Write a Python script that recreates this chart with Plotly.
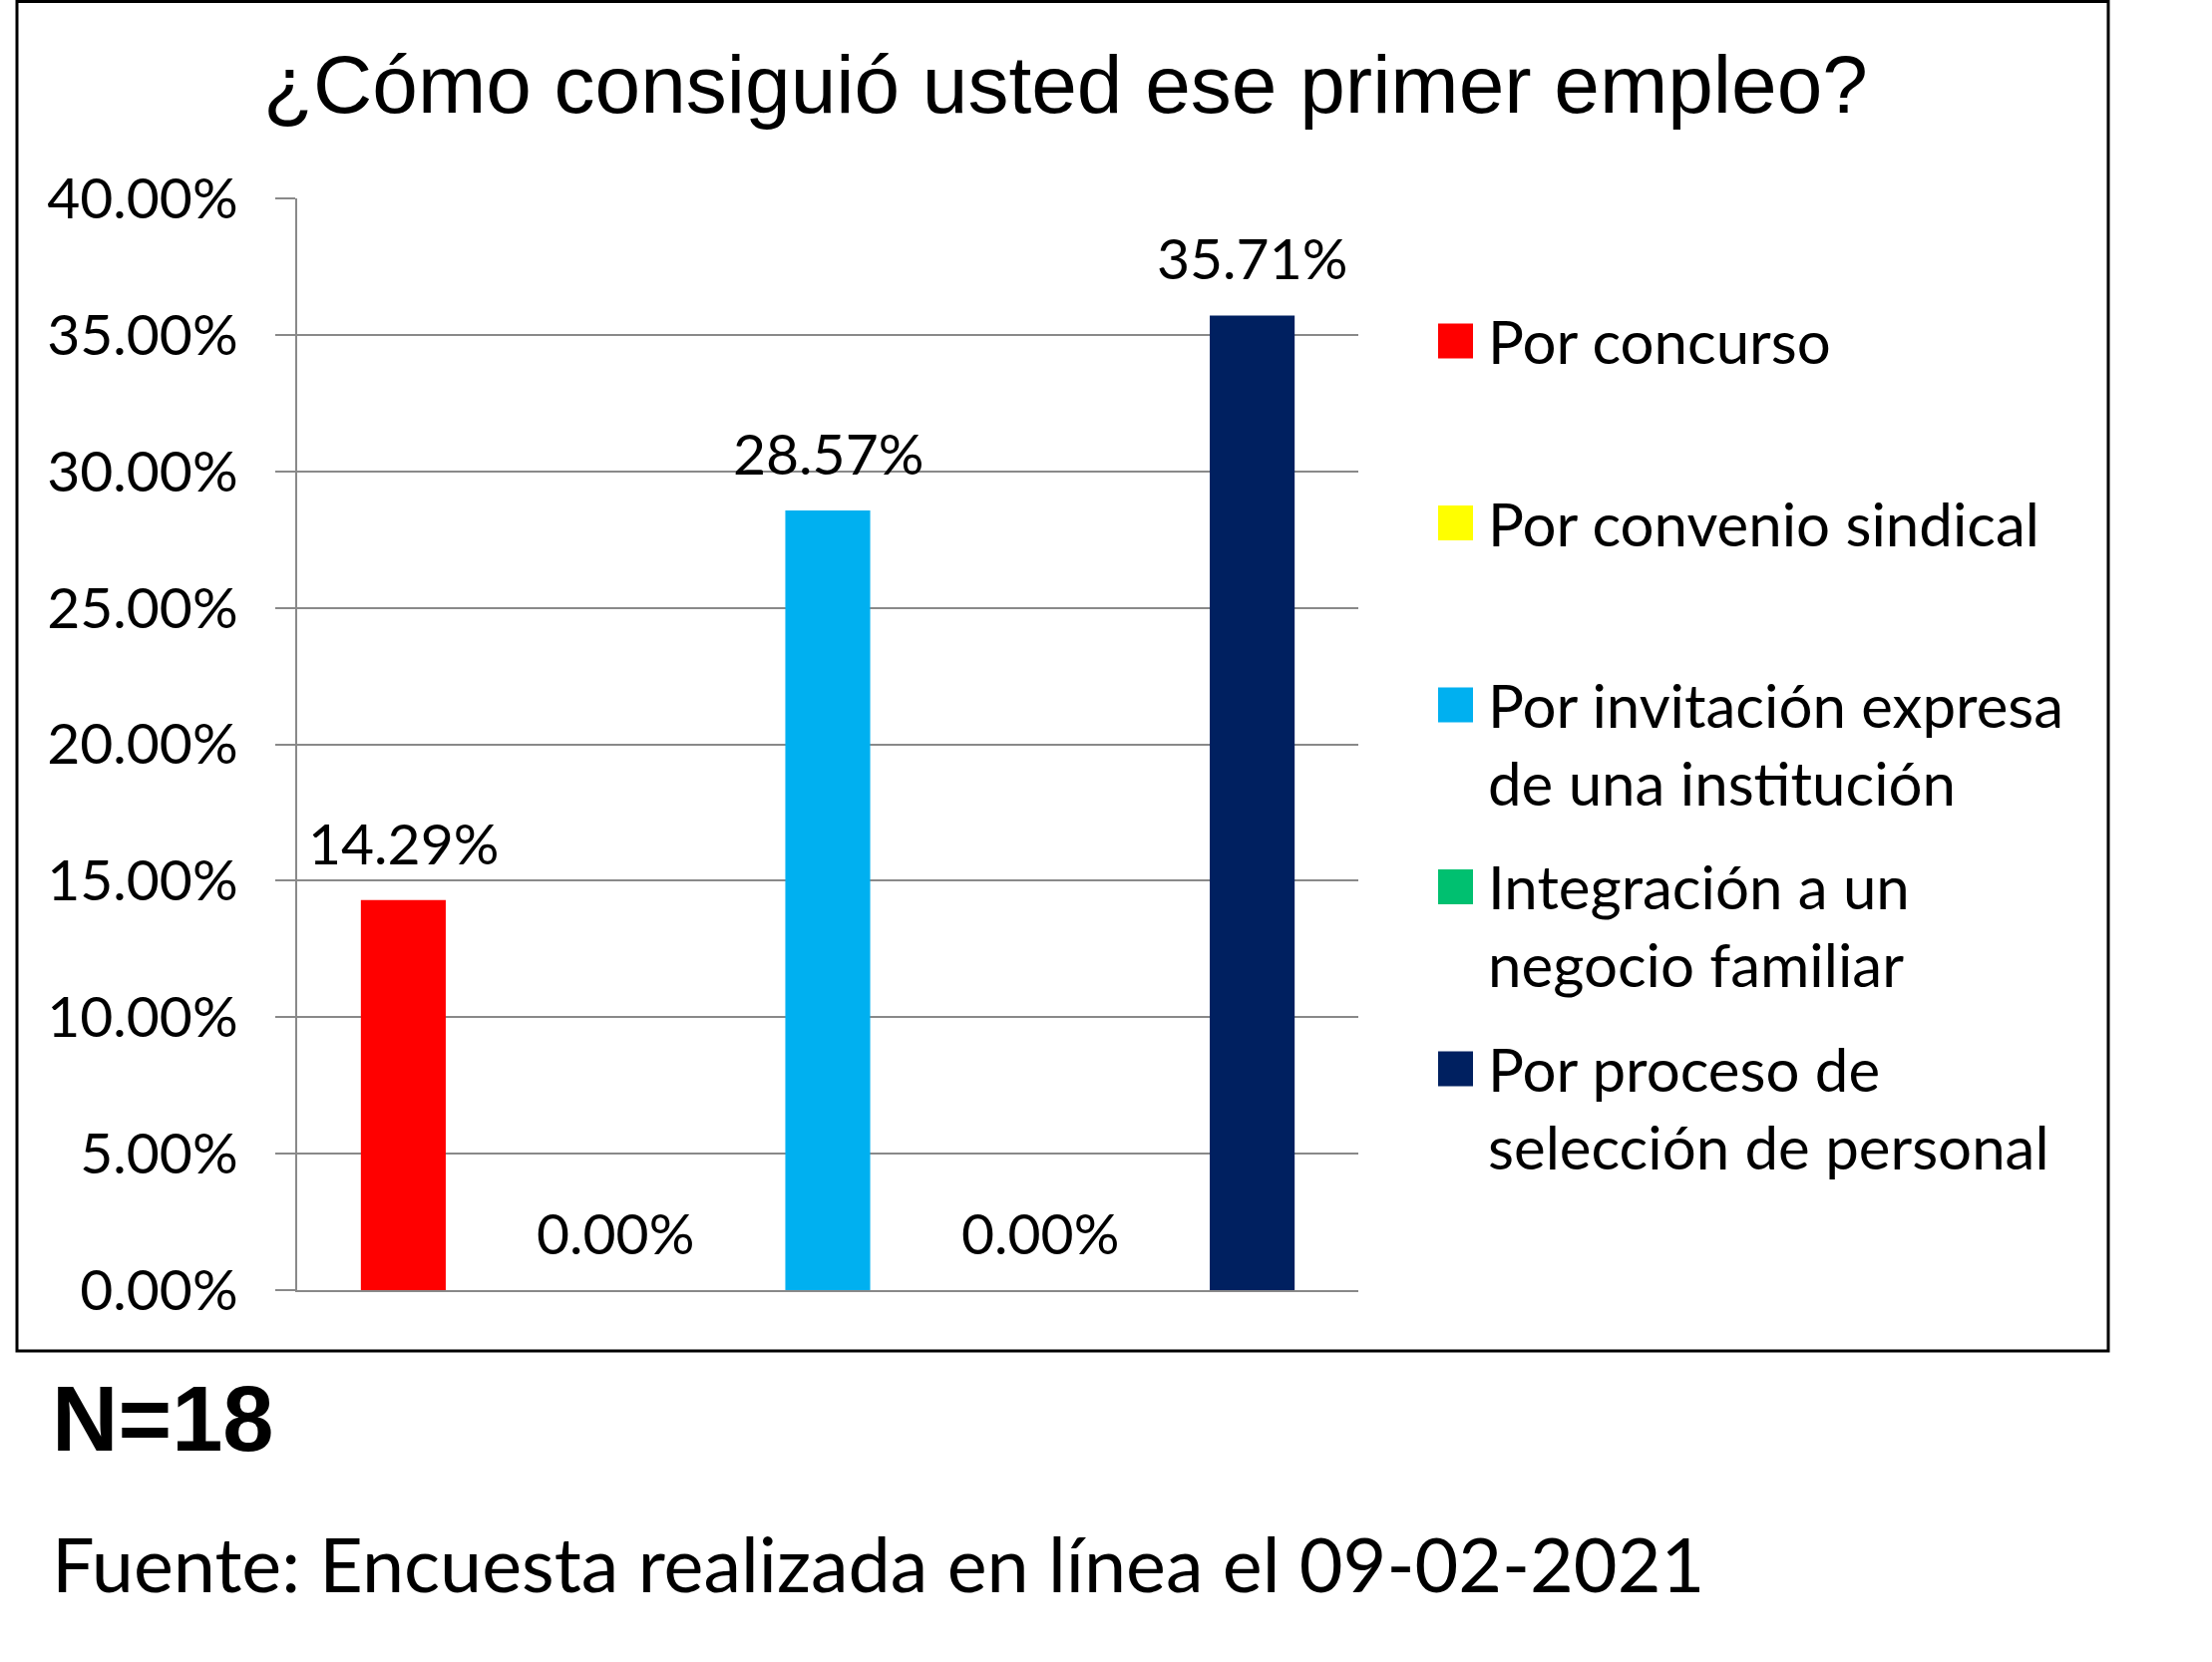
"""
Bar chart: ¿Cómo consiguió usted ese primer empleo? (N=18)
"""

import plotly.graph_objects as go

W, H = 2218, 1667

# data
categories = [
    "Por concurso",
    "Por convenio sindical",
    "Por invitación expresa<br>de una institución",
    "Integración a un<br>negocio familiar",
    "Por proceso de<br>selección de personal",
]
values = [0.1429, 0.0, 0.2857, 0.0, 0.3571]
colors = ["#FF0000", "#FFFF00", "#00B0F0", "#00C070", "#002060"]
y_ticks = [0.0, 0.05, 0.10, 0.15, 0.20, 0.25, 0.30, 0.35, 0.40]

GRID = "#898989"
LABEL_FONT = "Lato, 'Open Sans', sans-serif"
ARIAL = "Liberation Sans, Arial, sans-serif"


def px_x(x):
    return x / W


def px_y(y):
    # pixel from top -> paper fraction from bottom
    return 1 - y / H


fig = go.Figure(go.Bar(
    x=categories,
    y=values,
    marker_color=colors,
    marker_line_width=0,
    showlegend=False,
    hoverinfo="x+y",
))

# data labels above each bar
for cat, val in zip(categories, values):
    fig.add_annotation(
        x=cat, y=val, xref="x", yref="y",
        text=f"{val:.2%}",
        showarrow=False,
        yanchor="middle",
        yshift=58,
        font=dict(family=LABEL_FONT, size=57, color="black"),
    )

# legend drawn by hand so the swatches can be as big as the reference
leg_fs = 60
for i, (name, col) in enumerate(zip(categories, colors)):
    yc = 342 + i * 182.5
    fig.add_shape(
        type="rect", xref="paper", yref="paper",
        x0=px_x(1442), x1=px_x(1477),
        y0=px_y(yc + 17.5), y1=px_y(yc - 17.5),
        fillcolor=col, line_width=0,
    )
    nlines = name.count("<br>") + 1
    fig.add_annotation(
        x=px_x(1490), y=px_y(yc + (nlines - 1) * 0.65 * leg_fs),
        xref="paper", yref="paper",
        text=name, showarrow=False, align="left",
        xanchor="left", yanchor="middle",
        font=dict(family=LABEL_FONT, size=leg_fs, color="black"),
    )

# outer border of the chart area
fig.add_shape(
    type="rect", xref="paper", yref="paper",
    x0=px_x(17), x1=px_x(2114), y0=px_y(1355), y1=px_y(1.5),
    line=dict(color="black", width=3), fillcolor="rgba(0,0,0,0)",
)

# title and notes under the chart
fig.add_annotation(
    x=px_x(1068), y=px_y(85), xref="paper", yref="paper",
    text="¿Cómo consiguió usted ese primer empleo?",
    showarrow=False, xanchor="center", yanchor="middle",
    font=dict(family=ARIAL, size=82, color="black"),
)
fig.add_annotation(
    x=px_x(50), y=px_y(1423), xref="paper", yref="paper",
    text="<b>N=18</b>", showarrow=False, xanchor="left", yanchor="middle",
    font=dict(family=ARIAL, size=92, color="black"),
)
fig.add_annotation(
    x=px_x(50), y=px_y(1567), xref="paper", yref="paper",
    text="Fuente: Encuesta realizada en línea el 09-02-2021",
    showarrow=False, xanchor="left", yanchor="middle",
    font=dict(family=LABEL_FONT, size=75.5, color="black"),
)

fig.update_layout(
    width=W, height=H,
    margin=dict(l=0, r=0, t=0, b=0, pad=0, autoexpand=False),
    paper_bgcolor="white",
    plot_bgcolor="white",
    bargap=0.6,
    xaxis=dict(
        domain=[px_x(298), px_x(1362)],
        showticklabels=False,
        ticks="",
        showgrid=False,
        showline=True, linecolor=GRID, linewidth=2,
        automargin=False,
        fixedrange=True,
    ),
    yaxis=dict(
        domain=[px_y(1294), px_y(199)],
        range=[0, 0.4],
        tickvals=y_ticks,
        tickformat=".2%",
        ticks="outside", ticklen=20, tickwidth=2, tickcolor=GRID,
        ticklabelstandoff=26,
        showgrid=True, gridcolor=GRID, gridwidth=2,
        zeroline=False,
        showline=True, linecolor=GRID, linewidth=2,
        tickfont=dict(family=LABEL_FONT, size=57, color="black"),
        automargin=False,
        fixedrange=True,
    ),
)

# drop the default page margin so the figure sits at the window's corner
fig.write_html(
    "out.html",
    config={"displayModeBar": False},
    post_script="document.body.style.margin = '0';",
)
